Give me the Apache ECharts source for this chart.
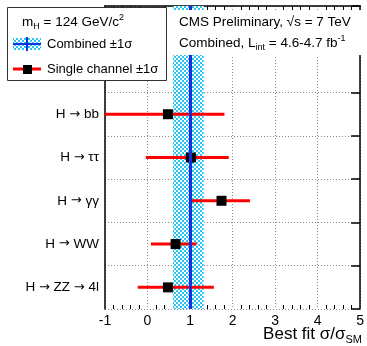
<!DOCTYPE html>
<html>
<head>
<meta charset="utf-8">
<script src="https://cdn.jsdelivr.net/npm/echarts@6/dist/echarts.min.js"></script>
<style>
  html, body { margin: 0; padding: 0; background: #fff; }
  #main { width: 367px; height: 346px; }
</style>
</head>
<body>
<div id="main"></div>
<script>
// channels, bottom to top; two empty rows on top hold the legend / caption
const channels = ['H {a|\u2192} ZZ {a|\u2192} 4l', 'H {a|\u2192} WW', 'H {a|\u2192} \u03b3\u03b3', 'H {a|\u2192} \u03c4\u03c4', 'H {a|\u2192} bb', '', ''];
const bestFit = [0.48, 0.66, 1.74, 1.02, 0.48];
const errLow = [-0.23, 0.08, 0.99, -0.04, -1.3];
const errHigh = [1.56, 1.15, 2.41, 1.91, 1.81];
const combined = [1.0];
const combinedBand = [0.60, 1.32];
const xTicks = [-1, 0, 1, 2, 3, 4, 5];

const font = 'Liberation Sans, Arial, sans-serif';

// checkered cyan fill like the ROOT hatch
function makePattern() {
    const c = document.createElement('canvas');
    c.width = 4; c.height = 4;
    const ctx = c.getContext('2d');
    ctx.fillStyle = '#29c6f4';
    ctx.fillRect(0, 0, 4, 4);
    ctx.fillStyle = '#ffffff';
    ctx.fillRect(0, 0, 2, 2);
    ctx.fillRect(2, 2, 2, 2);
    return c;
}
const pattern = { image: makePattern(), repeat: 'repeat' };

const myChart = echarts.init(document.getElementById('main'), null, { renderer: 'canvas' });

const gridLine = { show: true, lineStyle: { color: '#8a8a8a', type: [1, 2], width: 1 } };

const option = {
    animation: false,
    textStyle: { fontFamily: font },
    grid: { left: 105, right: 5, top: 6, bottom: 37 },
    xAxis: [{
        type: 'value',
        min: xTicks[0],
        max: xTicks[xTicks.length - 1],
        interval: 1,
        axisLine: { onZero: false, lineStyle: { color: '#000', width: 1.5 } },
        axisTick: { inside: true, length: 7, lineStyle: { color: '#000' } },
        minorTick: { show: true, splitNumber: 5, length: 4, lineStyle: { color: '#000' } },
        axisLabel: { color: '#000', fontSize: 14, margin: 5, fontFamily: font },
        splitLine: gridLine
    }, {
        type: 'value',
        position: 'top',
        min: xTicks[0],
        max: xTicks[xTicks.length - 1],
        interval: 1,
        axisLine: { show: true, onZero: false, lineStyle: { color: '#000', width: 1.5 } },
        axisTick: { inside: true, length: 7, lineStyle: { color: '#000' } },
        minorTick: { show: true, splitNumber: 5, length: 4, lineStyle: { color: '#000' } },
        axisLabel: { show: false },
        splitLine: { show: false }
    }],
    yAxis: [{
        type: 'category',
        data: channels,
        axisLine: { onZero: false, lineStyle: { color: '#000', width: 1.5 } },
        axisTick: { inside: true, length: 10, lineStyle: { color: '#000', width: 1.5 } },
        axisLabel: {
            color: '#000', fontSize: 13.5, margin: 6, fontFamily: font,
            rich: { a: { fontFamily: 'DejaVu Sans', fontSize: 13, color: '#000' } }
        },
        splitLine: gridLine
    }, {
        type: 'category',
        data: channels,
        position: 'right',
        axisLine: { show: true, onZero: false, lineStyle: { color: '#000', width: 1.5 } },
        axisTick: { show: true, inside: true, length: 9, lineStyle: { color: '#000', width: 1.5 } },
        axisLabel: { show: false },
        splitLine: { show: false }
    }],
    series: [{
        // combined band + central value
        type: 'line',
        data: [],
        markArea: {
            silent: true,
            itemStyle: { color: pattern },
            data: [[{ xAxis: combinedBand[0] }, { xAxis: combinedBand[1] }]]
        },
        markLine: {
            silent: true,
            symbol: 'none',
            label: { show: false },
            lineStyle: { color: '#1530e0', width: 3, type: 'solid' },
            data: [{ xAxis: combined[0] }]
        },
        z: 1
    }, {
        // single channel error bars
        type: 'custom',
        clip: true,
        data: bestFit.map((v, i) => [errLow[i], errHigh[i], i]),
        renderItem: function (params, api) {
            const a = api.coord([api.value(0), api.value(2)]);
            const b = api.coord([api.value(1), api.value(2)]);
            return {
                type: 'line',
                shape: { x1: a[0], y1: a[1], x2: b[0], y2: b[1] },
                style: { stroke: '#ff0000', lineWidth: 3 }
            };
        },
        encode: { x: [0, 1], y: 2 },
        z: 3
    }, {
        type: 'scatter',
        symbol: 'rect',
        symbolSize: 10,
        itemStyle: { color: '#000', opacity: 1 },
        data: bestFit.map((v, i) => [v, i]),
        z: 4
    }],
    graphic: [{
        // caption box
        type: 'rect',
        shape: { x: 167, y: 10, width: 194, height: 45 },
        style: { fill: '#fff' },
        z: 50
    }, {
        type: 'text',
        x: 179, y: 22,
        style: {
            text: 'CMS Preliminary, \u221as = 7 TeV',
            font: '13.5px ' + font, fill: '#000', verticalAlign: 'middle'
        },
        z: 51
    }, {
        type: 'text',
        x: 179, y: 43,
        style: {
            text: 'Combined, L{sub|int} = 4.6-4.7 fb{sup|-1}',
            font: '13.5px ' + font, fill: '#000', verticalAlign: 'middle',
            rich: {
                sub: { fontSize: 9, padding: [9, 0, 0, 0], fontFamily: font },
                sup: { fontSize: 9, padding: [0, 0, 8, 0], fontFamily: font }
            }
        },
        z: 51
    }, {
        // legend box
        type: 'rect',
        shape: { x: 7.5, y: 7.5, width: 159, height: 73 },
        style: { fill: '#fff', stroke: '#333', lineWidth: 1 },
        z: 60
    }, {
        type: 'text',
        x: 22, y: 22,
        style: {
            text: 'm{sub|H} = 124 GeV/c{sup|2}',
            font: '13.5px ' + font, fill: '#000', verticalAlign: 'middle',
            rich: {
                sub: { fontSize: 9, padding: [9, 0, 0, 0], fontFamily: font },
                sup: { fontSize: 9, padding: [0, 0, 8, 0], fontFamily: font }
            }
        },
        z: 61
    }, {
        type: 'rect',
        shape: { x: 13, y: 38, width: 28, height: 12 },
        style: { fill: pattern },
        z: 61
    }, {
        type: 'line',
        shape: { x1: 13, y1: 44, x2: 41, y2: 44 },
        style: { stroke: '#1530e0', lineWidth: 2 },
        z: 62
    }, {
        type: 'line',
        shape: { x1: 27, y1: 37, x2: 27, y2: 51 },
        style: { stroke: '#1530e0', lineWidth: 2 },
        z: 62
    }, {
        type: 'text',
        x: 47, y: 44,
        style: { text: 'Combined \u00b11\u03c3', font: '13px ' + font, fill: '#000', verticalAlign: 'middle' },
        z: 61
    }, {
        type: 'line',
        shape: { x1: 13, y1: 69, x2: 41, y2: 69 },
        style: { stroke: '#ff0000', lineWidth: 3 },
        z: 61
    }, {
        type: 'rect',
        shape: { x: 23, y: 65, width: 9, height: 9 },
        style: { fill: '#000' },
        z: 62
    }, {
        type: 'text',
        x: 47, y: 69,
        style: { text: 'Single channel \u00b11\u03c3', font: '13px ' + font, fill: '#000', verticalAlign: 'middle' },
        z: 61
    }, {
        // x axis title
        type: 'text',
        right: 5, top: 326,
        style: {
            text: 'Best fit \u03c3/\u03c3{sub|SM}',
            font: '17px ' + font, fill: '#000',
            rich: { sub: { fontSize: 11, padding: [10, 0, 0, 0], fontFamily: font } }
        },
        z: 61
    }]
};

myChart.setOption(option);
</script>
</body>
</html>
